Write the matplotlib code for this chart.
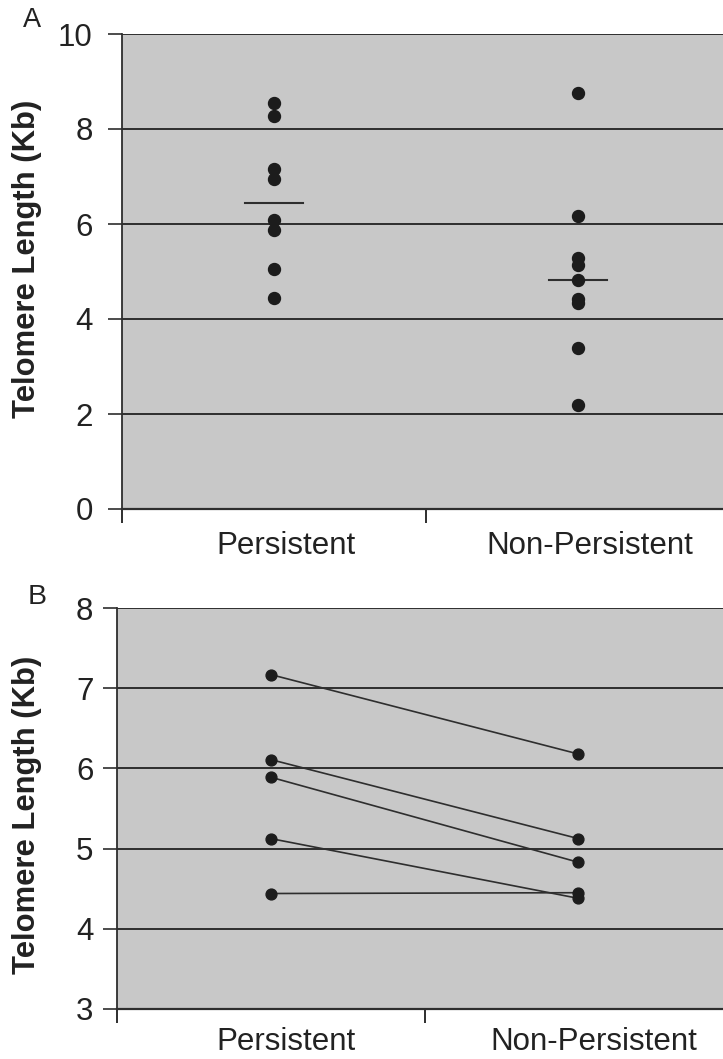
import matplotlib
matplotlib.use("Agg")
import matplotlib.pyplot as plt

plt.rcParams['font.family'] = ['Liberation Sans', 'DejaVu Sans']

# ---- data ----
categories = ["Persistent", "Non-Persistent"]
persistent_vals = [8.54, 8.28, 7.16, 6.95, 6.08, 5.87, 5.06, 4.45]
nonpersistent_vals = [8.75, 6.17, 5.28, 5.14, 4.83, 4.43, 4.33, 3.38, 2.18]
center_lines = [6.44, 4.83]

paired_persistent = [7.17, 6.11, 5.89, 5.125, 4.44]
paired_nonpersistent = [6.18, 5.125, 4.83, 4.38, 4.45]

yticks_a = [0, 2, 4, 6, 8, 10]
yticks_b = [3, 4, 5, 6, 7, 8]
ylabel = "Telomere Length (Kb)"

BG = "#c8c8c8"
DARK = "#1c1c1c"
LINE = "#2e2e2e"
TXT = "#222222"

fig = plt.figure(figsize=(7.23, 10.59), dpi=100)
xpos = [0.5, 1.5]

def style_axes(ax, yticks, ypad, xpad, label_shift):
    ax.set_facecolor(BG)
    ax.set_xlim(0, 2)
    ax.set_ylim(yticks[0], yticks[-1])
    ax.set_yticks(yticks)
    ax.set_yticklabels([str(t) for t in yticks])
    for t in yticks[1:]:
        ax.axhline(t, color=LINE, lw=1.4, zorder=1)
    ax.set_xticks([0, 1, 2])
    ax.set_xticklabels(["", "", ""])
    ax.set_xticks([p + label_shift for p in xpos], minor=True)
    ax.set_xticklabels(categories, minor=True)
    ax.tick_params(axis='x', which='major', length=10, width=1.4, color=LINE, direction='out')
    ax.tick_params(axis='x', which='minor', length=0, pad=xpad, labelsize=22.5, labelcolor=TXT)
    ax.tick_params(axis='y', length=10, width=1.2, color=LINE, direction='out',
                   pad=ypad, labelsize=22.5, labelcolor=TXT)
    ax.spines['right'].set_visible(False)
    ax.spines['top'].set_visible(False)
    ax.spines['left'].set_color(LINE)
    ax.spines['left'].set_linewidth(1.3)
    ax.spines['bottom'].set_color(LINE)
    ax.spines['bottom'].set_linewidth(1.6)

# ---- Panel A ----
axA = fig.add_axes([122/723, 550/1059, 608/723, 475/1059])
style_axes(axA, yticks_a, 11, 16, 0.04)
axA.plot([xpos[0]] * len(persistent_vals), persistent_vals, 'o', color=DARK,
         markersize=8.6, zorder=3, linestyle='none')
axA.plot([xpos[1]] * len(nonpersistent_vals), nonpersistent_vals, 'o', color=DARK,
         markersize=8.6, zorder=3, linestyle='none')
for x, m in zip(xpos, center_lines):
    axA.plot([x - 0.095, x + 0.095], [m, m], color=LINE, lw=1.5, zorder=2)
axA.set_ylabel(ylabel, fontsize=22.3, fontweight='bold', color=TXT)
axA.yaxis.set_label_coords(-0.1316, 0.527)
fig.text(32/723, 1 - 20/1059, "A", fontsize=19.5, ha='center', va='center', color=TXT)

# ---- Panel B ----
axB = fig.add_axes([117/723, 50/1059, 615/723, 401/1059])
style_axes(axB, yticks_b, 7, 13, 0.05)
for a, b in zip(paired_persistent, paired_nonpersistent):
    axB.plot(xpos, [a, b], '-', color=LINE, lw=1.2, zorder=2)
axB.plot([xpos[0]] * len(paired_persistent), paired_persistent, 'o', color=DARK,
         markersize=7.8, zorder=3, linestyle='none')
axB.plot([xpos[1]] * len(paired_nonpersistent), paired_nonpersistent, 'o', color=DARK,
         markersize=7.8, zorder=3, linestyle='none')
axB.set_ylabel(ylabel, fontsize=22.3, fontweight='bold', color=TXT)
axB.yaxis.set_label_coords(-0.122, 0.484)
fig.text(37/723, 1 - 597/1059, "B", fontsize=20.5, ha='center', va='center', color=TXT)

fig.savefig("out.png", dpi=100)
